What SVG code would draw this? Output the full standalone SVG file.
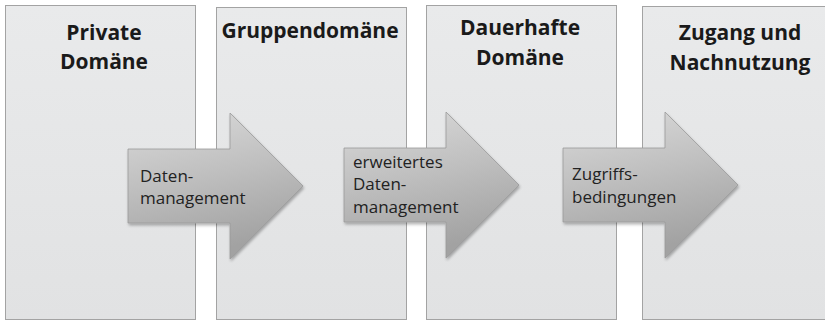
<svg xmlns="http://www.w3.org/2000/svg" width="825" height="321" viewBox="0 0 825 321">
<defs>
<linearGradient id="pg" x1="0" y1="0" x2="0" y2="1">
<stop offset="0" stop-color="#e9eaeb"/>
<stop offset="1" stop-color="#e1e2e3"/>
</linearGradient>
<linearGradient id="ag" x1="0" y1="0" x2="0.25" y2="1">
<stop offset="0" stop-color="#dadada"/>
<stop offset="0.5" stop-color="#bfbfbf"/>
<stop offset="1" stop-color="#a2a2a2"/>
</linearGradient>
<filter id="sh" x="-10%" y="-10%" width="130%" height="130%">
<feGaussianBlur in="SourceAlpha" stdDeviation="1.5"/>
<feOffset dx="1" dy="2"/>
<feComponentTransfer><feFuncA type="linear" slope="0.3"/></feComponentTransfer>
<feMerge><feMergeNode/><feMergeNode in="SourceGraphic"/></feMerge>
</filter>
<path id="arrow" d="M0,36 H102 V0 L175,73 L102,146 V110 H0 Z"/>
</defs>
<style>
.panel{fill:url(#pg);stroke:#a3a3a3;stroke-width:1}
.title{font-family:"Open Sans",sans-serif;font-weight:700;font-size:21px;fill:#1a1a1a;text-anchor:middle}
.lbl{font-family:"Open Sans",sans-serif;font-size:17px;fill:#222}
.arr{fill:url(#ag);stroke:#9a9a9a;stroke-width:0.8;filter:url(#sh)}
</style>
<rect width="825" height="321" fill="#ffffff"/>
<g id="panel-private">
<rect class="panel" x="5.5" y="5.5" width="190" height="314"/>
<text class="title" x="104" y="40">Private</text>
<text class="title" x="104" y="69">Domäne</text>
</g>
<g id="panel-gruppe">
<rect class="panel" x="216.5" y="7.5" width="190" height="312"/>
<text class="title" x="310" y="38">Gruppendomäne</text>
</g>
<g id="panel-dauerhaft">
<rect class="panel" x="426.5" y="5.5" width="190" height="314"/>
<text class="title" x="520" y="35">Dauerhafte</text>
<text class="title" x="520" y="65">Domäne</text>
</g>
<g id="panel-zugang">
<rect class="panel" x="642.5" y="6.5" width="196" height="313"/>
<text class="title" x="740" y="40">Zugang und</text>
<text class="title" x="740" y="70">Nachnutzung</text>
</g>
<g id="connectors">
<g id="arrow-1">
<use href="#arrow" class="arr" x="128" y="113"/>
<text class="lbl" x="140" y="182">Daten-</text>
<text class="lbl" x="140" y="204">management</text>
</g>
<g id="arrow-2">
<use href="#arrow" class="arr" x="344" y="112"/>
<text class="lbl" x="353" y="168">erweitertes</text>
<text class="lbl" x="353" y="190">Daten-</text>
<text class="lbl" x="353" y="213">management</text>
</g>
<g id="arrow-3">
<use href="#arrow" class="arr" x="563" y="112"/>
<text class="lbl" x="572" y="180">Zugriffs-</text>
<text class="lbl" x="572" y="203">bedingungen</text>
</g>
</g>
</svg>
